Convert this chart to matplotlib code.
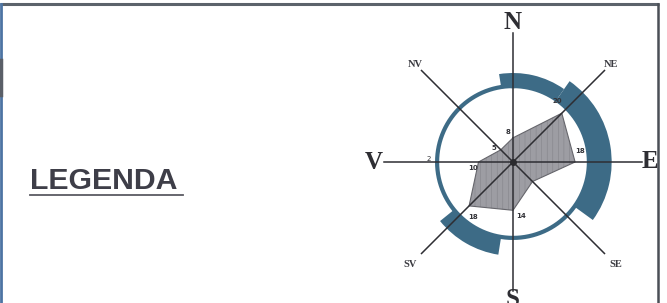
import numpy as np
import matplotlib.pyplot as plt

# smery vetru (po smeru hodinovych rucicek od N)
directions = ["N", "NE", "E", "SE", "S", "SV", "V", "NV"]
dir_angles = [0, 45, 90, 135, 180, 225, 270, 315]
freq = [7, 20, 18, 8, 14, 18, 10, 5]
freq_labels = ["8", "20", "18", "", "14", "18", "10", "5"]

# vnejsi pas: zacatek, konec (stupne), vnejsi polomer
band_start = [-9, 35, 189]
band_end = [35, 126, 231]
band_outer = [25.8, 28.6, 27.2]
ring_r = 22

W, H = 667, 303
fig = plt.figure(figsize=(W / 100, H / 100), dpi=100)
fig.patch.set_facecolor("white")

# podklad - ramecek a legenda
ax0 = fig.add_axes([0, 0, 1, 1])
ax0.set_xlim(0, W)
ax0.set_ylim(H, 0)
ax0.axis("off")
ax0.plot([0, 659], [4, 4], color="#5c636b", lw=2.2, solid_capstyle="butt")
ax0.plot([1, 1], [4, H], color="#4d74a3", lw=2.0)
ax0.plot([658, 658], [4, H], color="#4a4f56", lw=1.8)
ax0.plot([1, 1], [60, 95], color="#5a5f68", lw=2.5)
ax0.text(30, 189, "LEGENDA", fontsize=21.8, fontweight="bold", color="#3e3e48",
         family="Liberation Sans", ha="left", va="baseline")
ax0.plot([30, 183], [195, 195], color="#5a5a62", lw=1.3)

# vetrna ruzice
k = 3.45  # px na jednotku
R = 30
cx, cy = 513, 162
half = R * k
ax = fig.add_axes([(cx - half) / W, (H - cy - half) / H, 2 * half / W, 2 * half / H],
                  projection="polar")
ax.set_theta_zero_location("N")
ax.set_theta_direction(-1)
ax.set_ylim(0, R)
ax.axis("off")
ax.patch.set_alpha(0)

band_col = "#3d6b86"
for s, e, o in zip(band_start, band_end, band_outer):
    ax.bar(np.radians((s + e) / 2), o - ring_r, width=np.radians(e - s), bottom=ring_r,
           color=band_col, edgecolor="none", zorder=2)

th = np.linspace(0, 2 * np.pi, 361)
ax.plot(th, np.full_like(th, ring_r), color=band_col, lw=3.0, zorder=3)

plt.rcParams["hatch.linewidth"] = 0.4
ta = np.radians(dir_angles + [dir_angles[0]])
fr = freq + [freq[0]]
ax.fill(ta, fr, facecolor="#9d9da3", edgecolor="#85858b", hatch="|||", lw=0, zorder=4)
ax.plot(ta, fr, color="#66666c", lw=0.8, zorder=5)

# osy
for a in dir_angles:
    ax.plot([np.radians(a), np.radians(a)], [0, 37.5], color="#2e2e33", lw=1.1,
            zorder=6, clip_on=False)
ax.plot([0], [0], "o", color="#2a2a2e", ms=4, zorder=7)

# popisky smeru
big = {"N": 40.5, "E": 39.8, "S": 40.0, "V": 40.5}
for d, a in zip(directions, dir_angles):
    if d in big:
        ax.text(np.radians(a), big[d], d, fontsize=18, fontweight="bold", color="#2e2e33",
                family="Liberation Serif", ha="center", va="center", clip_on=False)
    else:
        rr = 40 if d in ("NV", "NE") else 42
        ax.text(np.radians(a), rr, d, fontsize=7.5, fontweight="bold", color="#3a3a40",
                family="Liberation Serif", ha="center", va="center", clip_on=False)

# hodnoty cetnosti
for a, f, lab in zip(dir_angles, freq, freq_labels):
    if lab:
        ax.text(np.radians(a - 9), f + 1.8, lab, fontsize=5, fontweight="bold",
                color="#333338", ha="center", va="center", zorder=8)

ax.text(np.radians(272), 24.5, "2", fontsize=5, color="#333338", ha="center", va="center")

fig.savefig("out.png", dpi=100, facecolor="white")
